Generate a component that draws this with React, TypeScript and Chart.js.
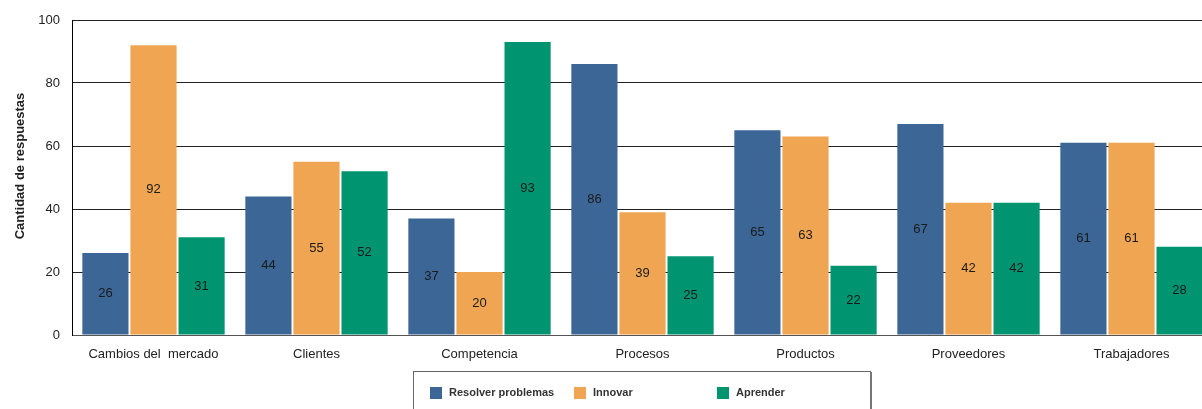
import React, { useEffect, useRef } from "react";
import { Chart, registerables } from "chart.js";

Chart.register(...registerables);

const categories = [
  "Cambios del  mercado",
  "Clientes",
  "Competencia",
  "Procesos",
  "Productos",
  "Proveedores",
  "Trabajadores",
];
const resolverProblemas = [26, 44, 37, 86, 65, 67, 61];
const innovar = [92, 55, 20, 39, 63, 42, 61];
const aprender = [31, 52, 93, 25, 22, 42, 28];
const seriesNames = ["Resolver problemas", "Innovar", "Aprender"];
const seriesColors = ["#3b6696", "#f0a553", "#009470"];
const yTicks = [0, 20, 40, 60, 80, 100];
const yTitle = "Cantidad de respuestas";

const FONT = "'Liberation Sans', Arial, sans-serif";

const valueLabels = {
  id: "valueLabels",
  afterDatasetsDraw(chart: any) {
    const ctx = chart.ctx;
    ctx.save();
    ctx.font = `13px ${FONT}`;
    ctx.fillStyle = "#1a1a1a";
    ctx.textAlign = "center";
    ctx.textBaseline = "middle";
    chart.data.datasets.forEach((ds: any, i: number) => {
      const meta = chart.getDatasetMeta(i);
      meta.data.forEach((el: any, j: number) => {
        const y = (el.y + el.base) / 2;
        ctx.fillText(String(ds.data[j]), el.x, y);
      });
    });
    ctx.restore();
  },
};

const extras = {
  id: "extras",
  afterDraw(chart: any) {
    const ctx = chart.ctx;
    ctx.save();
    // y-axis title
    ctx.translate(20, 166);
    ctx.rotate(-Math.PI / 2);
    ctx.font = `bold 13px ${FONT}`;
    ctx.fillStyle = "#222";
    ctx.textAlign = "center";
    ctx.textBaseline = "middle";
    ctx.fillText(yTitle, 0, 0);
    ctx.restore();

    // legend box
    ctx.save();
    ctx.strokeStyle = "#666";
    ctx.lineWidth = 1;
    ctx.strokeRect(413.5, 371.5, 457, 60);
    ctx.fillStyle = "#777";
    ctx.fillRect(870, 372, 2, 40);
    const xs = [430, 574, 717];
    ctx.font = `bold 11px ${FONT}`;
    ctx.textBaseline = "middle";
    ctx.textAlign = "left";
    seriesNames.forEach((name, i) => {
      ctx.fillStyle = seriesColors[i];
      ctx.fillRect(xs[i], 387, 12, 12);
      ctx.fillStyle = "#333";
      ctx.fillText(name, xs[i] + 19, 393);
    });
    ctx.restore();
  },
};

export default function App() {
  const ref = useRef<HTMLCanvasElement>(null);
  useEffect(() => {
    if (!ref.current) return;
    Chart.defaults.font.family = FONT;
    const chart = new Chart(ref.current, {
      type: "bar",
      data: {
        labels: categories,
        datasets: [resolverProblemas, innovar, aprender].map((d, i) => ({
          label: seriesNames[i],
          data: d,
          backgroundColor: seriesColors[i],
          borderWidth: 0,
          categoryPercentage: 0.885,
          barPercentage: 0.96,
        })),
      },
      options: {
        responsive: false,
        animation: false,
        devicePixelRatio: 1,
        layout: { padding: { left: 0, top: 20, right: 17, bottom: 34 } },
        plugins: {
          legend: { display: false },
          tooltip: { enabled: false },
        },
        scales: {
          x: {
            grid: { display: false, drawTicks: false },
            border: { display: true, color: "#555", width: 1 },
            ticks: { font: { size: 13 }, color: "#222", padding: 12, maxRotation: 0, autoSkip: false },
            afterFit: (s: any) => {
              s.height = 40;
            },
          },
          y: {
            min: 0,
            max: 100,
            afterBuildTicks: (s: any) => {
              s.ticks = yTicks.map((v) => ({ value: v }));
            },
            ticks: { font: { size: 13 }, color: "#222", padding: 12 },
            grid: { color: "#222", drawTicks: false, lineWidth: 1 },
            border: { display: true, color: "#000", width: 1 },
            afterFit: (s: any) => {
              s.width = 72;
            },
          },
        },
      },
      plugins: [valueLabels, extras],
    });
    return () => chart.destroy();
  }, []);
  return (
    <div
      style={{
        position: "fixed",
        left: 0,
        top: 0,
        width: 1202,
        height: 409,
        overflow: "hidden",
        background: "#fff",
      }}
    >
      <canvas ref={ref} width={1230} height={409} style={{ display: "block" }} />
    </div>
  );
}
